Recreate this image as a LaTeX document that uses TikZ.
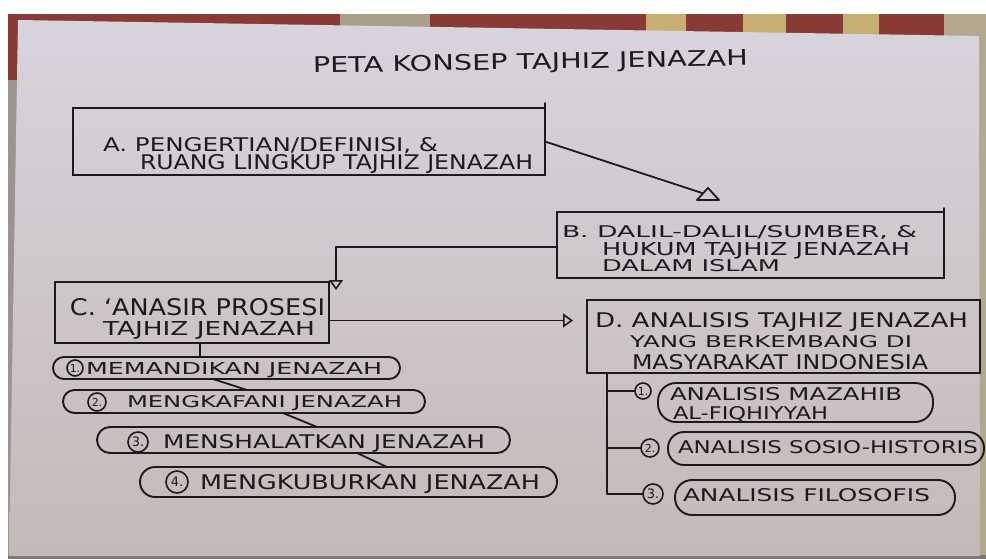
\documentclass[tikz,border=0pt]{standalone}
\usepackage{fontspec}
\setmainfont{DejaVu Sans}
\usepackage{graphicx}
\usetikzlibrary{arrows.meta}
\definecolor{ink}{HTML}{1C1A1E}
\definecolor{paperTop}{HTML}{D8D4DD}
\definecolor{paperBot}{HTML}{C3B9B7}
\definecolor{rug}{HTML}{8A3A35}
\definecolor{rugCream}{HTML}{C7AF72}
\definecolor{rugBeige}{HTML}{B3A78D}
\definecolor{floor}{HTML}{9C9391}
\newcommand{\handtext}[3]{\raisebox{0pt}[#2pt][0pt]{\resizebox{#1pt}{#2pt}{#3}}}
\begin{document}
\begin{tikzpicture}[x=1pt,y=-1pt,
  box/.style={draw=ink, line width=2pt, rectangle, inner sep=0pt, outer sep=0pt},
  pill/.style={draw=ink, line width=1.9pt, rectangle, rounded corners=#1, inner sep=0pt, outer sep=0pt},
  txt/.style={inner sep=0pt, outer sep=0pt, anchor=base west, text=ink},
  numcirc/.style={circle, draw=ink, line width=1.6pt, inner sep=0pt, outer sep=0pt,
    minimum size=#1, text=ink, font=\fontsize{11}{11}\selectfont},
  bignum/.style={font=\fontsize{13}{13}\selectfont},
  conn/.style={draw=ink, line width=1.8pt, line cap=round, line join=round},
  opentip/.style={-{Triangle[open,length=10pt,width=14pt,line width=1.6pt]}}
]
\useasboundingbox (0,0) rectangle (986,559);
% ---------- photo background ----------
\fill[white] (0,0) rectangle (986,559);
\fill[rug] (8,14) rectangle (986,60);
\fill[floor] (8,60) rectangle (30,559);
\fill[rug] (8,14) rectangle (18,80);
\fill[rugBeige!80!gray] (340,14) rectangle (430,32);
\fill[rugCream] (646,14) rectangle (686,34);
\fill[rugCream] (743,14) rectangle (786,35);
\fill[rugCream] (843,14) rectangle (879,36);
\fill[rugBeige] (944,14) rectangle (986,40);
\fill[rugBeige] (978,14) rectangle (986,559);
\fill[floor!80!black] (8,555) rectangle (986,559);
\shade[top color=paperTop, bottom color=paperBot]
  (18,20) -- (979,36) -- (980,556) -- (9,556) -- cycle;

% ---------- title ----------
\node[txt, rotate=1] (title) at (313,73) {\handtext{435}{16}{PETA KONSEP TAJHIZ JENAZAH}};

% ---------- main boxes ----------
\node[box, minimum width=472pt, minimum height=67pt] (A) at (309,141.5) {};
\node[box, minimum width=387pt, minimum height=66pt] (B) at (750.5,245) {};
\node[box, minimum width=274pt, minimum height=61pt] (C) at (192,312.5) {};
\node[box, minimum width=393pt, minimum height=73pt] (D) at (783.5,336.5) {};
\draw[conn] (A.north east) -- ++(0,-5);
\draw[conn] (B.north east) -- ++(0,-4);

\node[txt] (a1) at (103,152) {\handtext{335}{14}{A. PENGERTIAN/DEFINISI, \&}};
\node[txt] (a2) at (140,170) {\handtext{393}{15}{RUANG LINGKUP TAJHIZ JENAZAH}};
\node[txt] (b1) at (562,237) {\handtext{355}{12}{B. DALIL-DALIL/SUMBER, \&}};
\node[txt] (b2) at (602,255) {\handtext{308}{13}{HUKUM TAJHIZ JENAZAH}};
\node[txt] (b3) at (602,272) {\handtext{178}{12}{DALAM ISLAM}};
\node[txt] (c1) at (70,315) {\handtext{255}{17}{C. ‘ANASIR PROSESI}};
\node[txt] (c2) at (103,335) {\handtext{212}{14}{TAJHIZ JENAZAH}};
\node[txt] (d1) at (595,327) {\handtext{373}{15}{D. ANALISIS TAJHIZ JENAZAH}};
\node[txt] (d2) at (630,347) {\handtext{282}{12}{YANG BERKEMBANG DI}};
\node[txt] (d3) at (632,369) {\handtext{296}{15}{MASYARAKAT INDONESIA}};

% ---------- connectors between boxes ----------
\coordinate (tA) at (702,193);
\draw[conn] (A.east) -- (tA);
\draw[conn] (697,200) -- (708,188) -- (719,200) -- cycle;
\coordinate (cTip) at (336,290);
\draw[conn, opentip] ([yshift=-2pt]B.west) -| (cTip);
\coordinate (dTip) at (573,320.5);
\draw[conn, opentip] ([yshift=-8pt]C.east) -- (dTip);

% ---------- left list ----------
\node[pill=11pt, minimum width=347pt, minimum height=22pt] (P1) at (226.5,368) {};
\node[pill=11.5pt, minimum width=362pt, minimum height=23pt] (P2) at (244,401.5) {};
\node[pill=13pt, minimum width=413pt, minimum height=26pt] (P3) at (303.5,440) {};
\node[pill=15pt, minimum width=417pt, minimum height=30pt] (P4) at (348.5,482) {};

\node[numcirc=16pt] (k1) at (75,368) {1.};
\node[numcirc=18pt] (k2) at (97,402) {2.};
\node[numcirc=20pt, bignum] (k3) at (138,442) {3.};
\node[numcirc=22pt, bignum] (k4) at (177,482) {4.};

\node[txt] (p1t) at (86,374) {\handtext{296}{12}{MEMANDIKAN JENAZAH}};
\node[txt] (p2t) at (127,407) {\handtext{275}{12}{MENGKAFANI JENAZAH}};
\node[txt] (p3t) at (163,448) {\handtext{322}{14}{MENSHALATKAN JENAZAH}};
\node[txt] (p4t) at (200,489) {\handtext{340}{15}{MENGKUBURKAN JENAZAH}};

\draw[conn] (C.south -| 200,0) -- (P1.north -| 200,0);
\draw[conn] (P1.south -| 213,0) -- (P2.north -| 247,0);
\draw[conn] (P2.south -| 283,0) -- (P3.north -| 317,0);
\draw[conn] (P3.south -| 357,0) -- (P4.north -| 387,0);

% ---------- right list ----------
\node[pill=18pt, minimum width=275pt, minimum height=39pt] (R1) at (795.5,402.5) {};
\node[pill=16pt, minimum width=316pt, minimum height=33pt] (R2) at (826,448.5) {};
\node[pill=17pt, minimum width=280pt, minimum height=35pt] (R3) at (815,497.5) {};

\node[numcirc=16pt] (n1) at (643,391) {1.};
\node[numcirc=18pt] (n2) at (650,448) {2.};
\node[numcirc=20pt, bignum] (n3) at (653,494) {3.};

\node[txt] (r1a) at (670,400) {\handtext{232}{13}{ANALISIS MAZAHIB}};
\node[txt] (r1b) at (673,419) {\handtext{155}{13}{AL-FIQHIYYAH}};
\node[txt] (r2t) at (678,453) {\handtext{300}{13}{ANALISIS SOSIO-HISTORIS}};
\node[txt] (r3t) at (683,501) {\handtext{247}{13}{ANALISIS FILOSOFIS}};

\draw[conn] (D.south -| 607,0) |- (n3.west);
\draw[conn] (n1.west -| 607,0) -- (n1.west);
\draw[conn] (n2.west -| 607,0) -- (n2.west);
\end{tikzpicture}
\end{document}
